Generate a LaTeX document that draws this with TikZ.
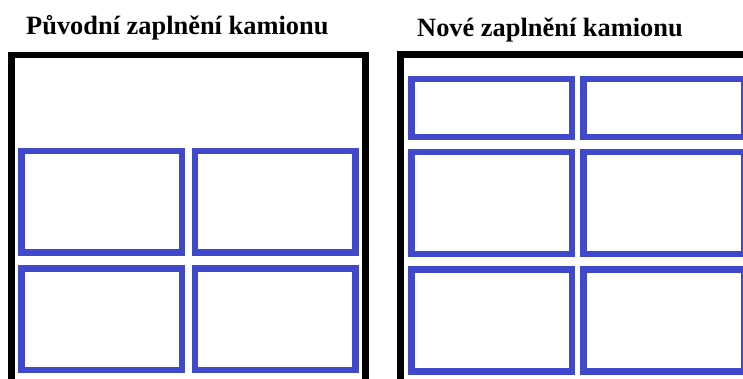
\documentclass[tikz,border=0pt]{standalone}
\usepackage{fontspec}
\setmainfont{Liberation Serif}
\definecolor{crate}{RGB}{64,72,204}

\begin{document}
\begin{tikzpicture}[x=1pt, y=-1pt,
		crate/.style={draw=crate, line width=6.6pt, inner sep=0pt, minimum width=160.5pt},
		tall/.style={crate, minimum height=101.8pt},
		low/.style={crate, minimum height=58pt},
		title/.style={anchor=base west, inner sep=0pt, font=\fontsize{26.4}{30}\selectfont\bfseries}]
		\useasboundingbox (0,0) rectangle (743,378);
		\clip (0,0) rectangle (743,378);

		% puvodni
		\node[title] (t1) at (26, 34.5) {Původní zaplnění kamionu};
		\draw[line width=6.6pt] (11.7, 390) -- (11.7, 55) -- (365.3, 55) -- (365.3, 390);
		\node[tall] (a1) at (101.8, 201.7) {};
		\node[tall] (a2) at (275.1, 201.7) {};
		\node[tall] (a3) at (101.8, 319.2) {};
		\node[tall] (a4) at (275.1, 319.2) {};

		% nove
		\node[title] (t2) at (417, 36.5) {Nové zaplnění kamionu};
		\draw[line width=6.6pt] (400.7, 390) -- (400.7, 54.7) -- (760, 54.7);
		\node[low] (b1) at (491.7, 108) {};
		\node[low] (b2) at (664, 108) {};
		\node[tall] (b3) at (491.7, 202.9) {};
		\node[tall] (b4) at (664, 202.9) {};
		\node[tall] (b5) at (491.7, 320.3) {};
		\node[tall] (b6) at (664, 320.3) {};

	\end{tikzpicture}
\end{document}
